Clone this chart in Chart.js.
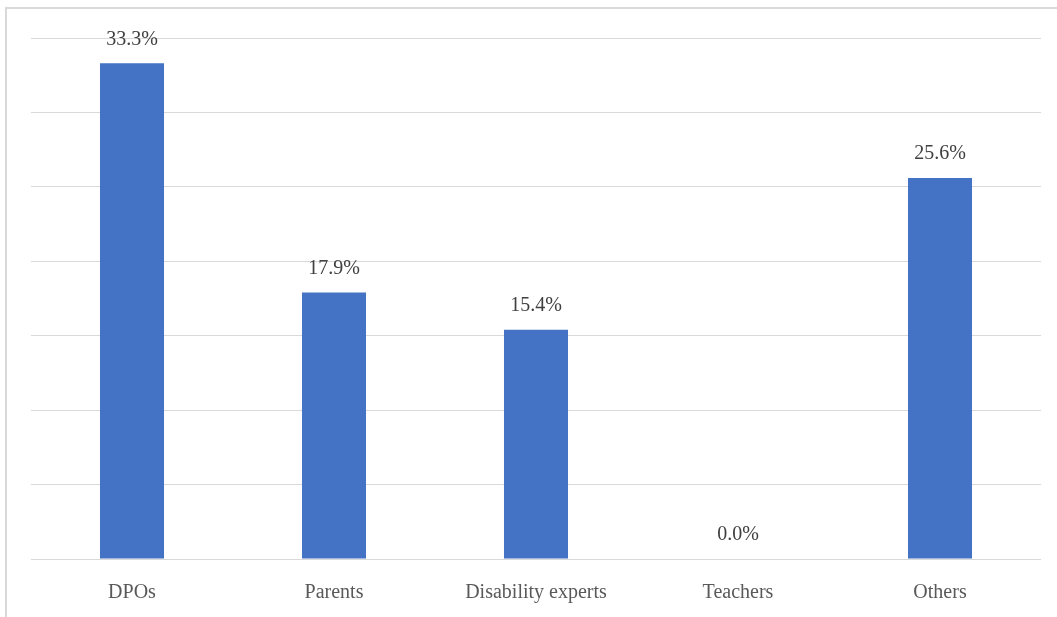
<!DOCTYPE html>
<html>
<head>
<meta charset="utf-8">
<script src="https://cdn.jsdelivr.net/npm/chart.js@4/dist/chart.umd.min.js"></script>
<style>
  html, body { margin: 0; padding: 0; background: #fff; }
  #wrap { position: relative; width: 1057px; height: 617px; overflow: hidden; background: #fff; }
  #frame { position: absolute; left: 5px; top: 7px; right: -10px; bottom: -10px; border-left: 2px solid #d9d9d9; border-top: 2px solid #d9d9d9; }
  canvas { position: absolute; left: 0; top: 0; }
</style>
</head>
<body>
<div id="wrap">
  <div id="frame"></div>
  <canvas id="c" width="1057" height="617"></canvas>
</div>
<script>
const categories = ["DPOs", "Parents", "Disability experts", "Teachers", "Others"];
const values = [33.3, 17.9, 15.4, 0.0, 25.6];
const valueLabels = ["33.3%", "17.9%", "15.4%", "0.0%", "25.6%"];

const FONT = "'Liberation Serif', 'Times New Roman', serif";

const dataLabelPlugin = {
  id: 'dataLabels',
  afterDatasetsDraw(chart) {
    const ctx = chart.ctx;
    const meta = chart.getDatasetMeta(0);
    ctx.save();
    ctx.font = "20px " + FONT;
    ctx.fillStyle = "#404040";
    ctx.textAlign = "center";
    ctx.textBaseline = "middle";
    meta.data.forEach((bar, i) => {
      ctx.fillText(valueLabels[i], bar.x, bar.y - 24);
    });
    ctx.restore();
  }
};

new Chart(document.getElementById('c'), {
  type: 'bar',
  data: {
    labels: categories,
    datasets: [{
      data: values,
      backgroundColor: '#4472C4',
      borderWidth: 0,
      categoryPercentage: 1.0,
      barPercentage: 0.317
    }]
  },
  options: {
    responsive: false,
    animation: false,
    devicePixelRatio: 1,
    layout: { padding: { left: 31, right: 16, top: 38, bottom: 12 } },
    plugins: { legend: { display: false }, tooltip: { enabled: false } },
    scales: {
      x: {
        grid: { display: false, drawTicks: false },
        border: { display: false },
        ticks: { color: '#595959', font: { family: FONT, size: 20 }, padding: 22, maxRotation: 0 },
        afterFit(scale) { scale.height = 46; }
      },
      y: {
        min: 0, max: 35,
        ticks: { display: false, stepSize: 5 },
        grid: { color: '#d9d9d9', lineWidth: 1, drawTicks: false },
        border: { display: false }
      }
    }
  },
  plugins: [dataLabelPlugin]
});
</script>
</body>
</html>
